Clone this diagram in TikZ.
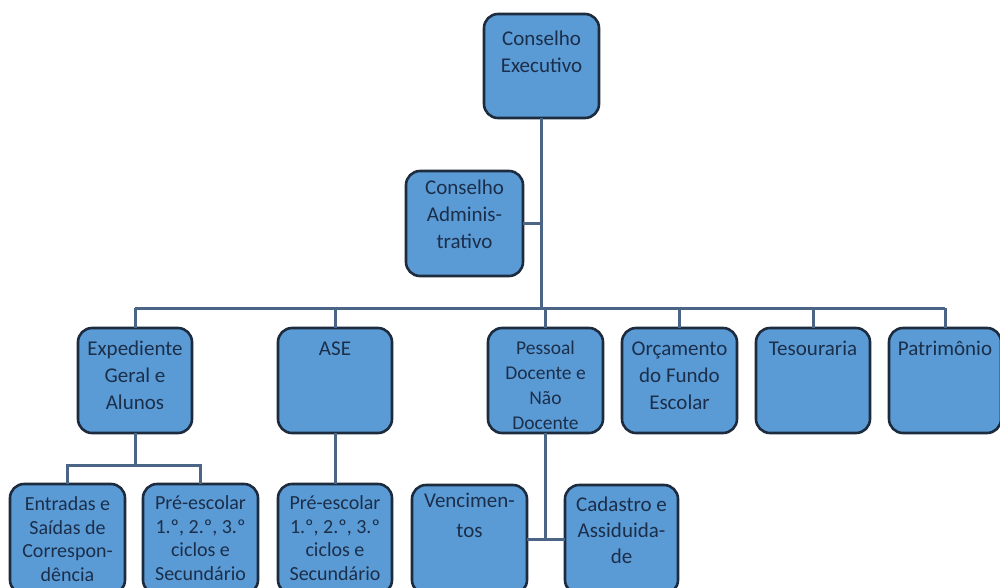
\documentclass[tikz,border=0pt]{standalone}
\usepackage{fontspec}
\setmainfont{Carlito}
\definecolor{boxfill}{HTML}{5B9BD5}
\definecolor{boxline}{HTML}{1C2B3E}
\definecolor{txtcol}{HTML}{1B2E4A}
\definecolor{conncol}{HTML}{4A6585}
% \orgbox[text options]{name}{x1}{y1}{x2}{y2}{text inset}{text}
\newcommand\orgbox[8][]{%
  \node[box, minimum width={#5pt-#3pt}, minimum height={#6pt-#4pt},
        label={[txt,#1,label distance=-#7pt]north:{#8}}]
       (#2) at ({(#3+#5)/2},{(#4+#6)/2}) {};}
\begin{document}
\begin{tikzpicture}[x=1pt,y=-1pt,
  box/.style={draw=boxline, fill=boxfill, line width=2.6pt,
              rounded corners=14pt, inner sep=0pt, outer sep=0pt},
  txt/.style={anchor=north, align=center, text=txtcol, inner sep=0pt,
              outer sep=0pt, font=\fontsize{21}{27}\selectfont},
  small/.style={font=\fontsize{19.5}{25}\selectfont},
  low/.style={font=\fontsize{20}{23.5}\selectfont},
  conn/.style={draw=conncol, line width=3pt}]
\useasboundingbox (0,0) rectangle (1000,587);
\clip (0,0) rectangle (1000,587);

% top of the chart
\orgbox{ce}{484}{14}{599}{118}{17}{Conselho\\Executivo}
\orgbox{ca}{406}{171}{523}{276}{9}{Conselho\\Adminis-\\trativo}

% departments
\orgbox{exp}{78}{328}{192}{433}{12.5}{Expediente\\Geral e\\Alunos}
\orgbox{ase}{278}{328}{392}{433}{13.5}{ASE}
\orgbox[small]{pes}{488}{328}{603}{433}{13}{Pessoal\\Docente e\\Não\\Docente}
\orgbox{orc}{622}{328}{737}{433}{14}{Orçamento\\do Fundo\\Escolar}
\orgbox{tes}{756}{328}{870}{433}{13}{Tesouraria}
\orgbox{pat}{889}{328}{1001}{433}{13}{Patrimônio}

% sections
\orgbox[low]{ent}{10}{484}{125}{594}{13}{Entradas e\\Saídas de\\Correspon-\\dência}
\orgbox[low]{pre1}{143}{484}{258}{594}{12}{Pré-escolar\\1.º, 2.º, 3.º\\ciclos e\\Secundário}
\orgbox[low]{pre2}{278}{484}{392}{594}{12}{Pré-escolar\\1.º, 2.º, 3.º\\ciclos e\\Secundário}
\orgbox[font=\fontsize{21}{30}\selectfont]{ven}{412}{485}{527}{594}{8.5}{Vencimen-\\tos}
\orgbox[font=\fontsize{21}{26}\selectfont]{cad}{565}{485}{678}{594}{11.5}{Cadastro e\\Assiduida-\\de}

% connectors
\coordinate (bus) at (0,308);
\draw[conn] (ce.south) -- (ce.south |- bus);
\draw[conn] (ca.east) -- (ca.east -| ce.south);
\draw[conn] (exp.north |- bus) -- (pat.north |- bus);
\foreach \n in {exp,ase,pes,orc,tes,pat}
  \draw[conn] (\n.north) -- (\n.north |- bus);
\draw[conn] (exp.south) -- ++(0,32) -| (ent.north);
\draw[conn] (exp.south) -- ++(0,32) -| (pre1.north);
\draw[conn] (ase.south) -- (pre2.north);
\draw[conn] (pes.south) -- (pes.south |- ven.east);
\draw[conn] (ven.east) -- (cad.west);
\end{tikzpicture}
\end{document}
